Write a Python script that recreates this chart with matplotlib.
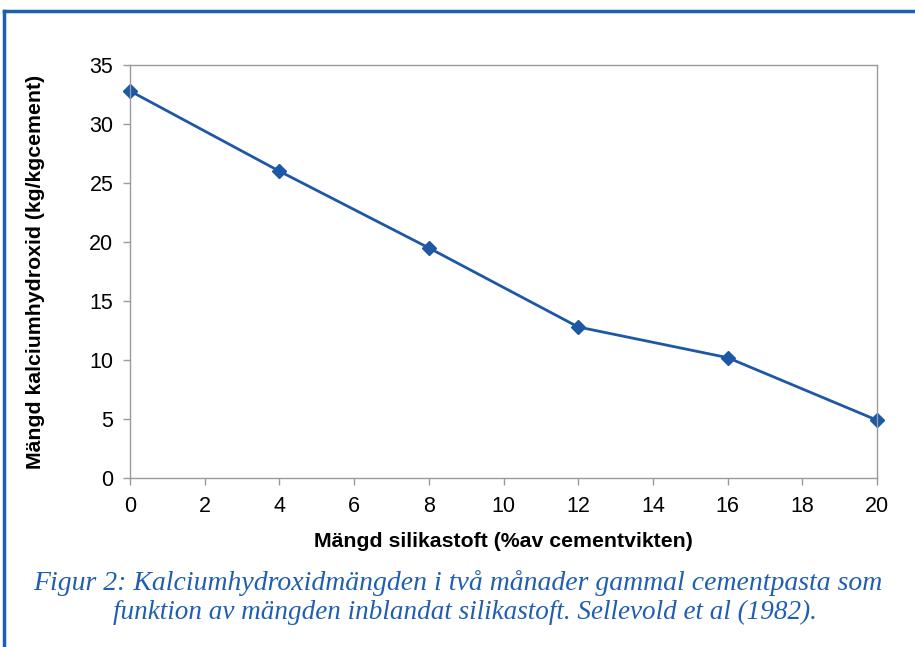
import matplotlib
matplotlib.use("Agg")
import matplotlib.pyplot as plt
from matplotlib.lines import Line2D

silika = [0, 4, 8, 12, 16, 20]
kalcium = [32.8, 26.0, 19.5, 12.8, 10.2, 4.9]
xticks = list(range(0, 21, 2))
yticks = list(range(0, 36, 5))

fig = plt.figure(figsize=(9.15, 6.47), dpi=100)
fig.patch.set_facecolor("white")

# figure frame (top and left lines, blue)
frame_col = "#1b5fae"
fig.add_artist(Line2D([4/915, 4/915], [0, 1 - 11/647], transform=fig.transFigure, color=frame_col, lw=2.5))
fig.add_artist(Line2D([4/915, 1], [1 - 11/647, 1 - 11/647], transform=fig.transFigure, color=frame_col, lw=2.5))

ax = fig.add_axes([130/915, 1 - 478/647, (877 - 130)/915, (478 - 65)/647])
ax.plot(silika, kalcium, color="#1d58a7", lw=2, marker="D", markersize=7.5, clip_on=False)
ax.set_xlim(0, 20)
ax.set_ylim(0, 35)
ax.set_xticks(xticks)
ax.set_yticks(yticks)
for s in ax.spines.values():
    s.set_color("#9a9a9a")
    s.set_linewidth(1)
ax.tick_params(axis="both", direction="out", length=5, color="#9a9a9a", labelsize=15.5, labelcolor="black", width=1)
ax.tick_params(axis="x", pad=8)
ax.tick_params(axis="y", pad=7)
for lab in ax.get_xticklabels() + ax.get_yticklabels():
    lab.set_fontfamily("Liberation Sans")

ax.set_xlabel("Mängd silikastoft (%av cementvikten)", fontsize=15.3, fontweight="bold",
              fontfamily="Liberation Sans", labelpad=11)
ax.set_ylabel("Mängd kalciumhydroxid (kg/kgcement)", fontsize=15.3, fontweight="bold",
              fontfamily="Liberation Sans", labelpad=32)

cap_col = "#1f5eb0"
fig.text(458/915, 1 - 583/647, "Figur 2: Kalciumhydroxidmängden i två månader gammal cementpasta som",
         ha="center", va="center", fontsize=20, style="italic", fontfamily="Liberation Serif", color=cap_col)
fig.text(465/915, 1 - 612/647, "funktion av mängden inblandat silikastoft. Sellevold et al (1982).",
         ha="center", va="center", fontsize=19.5, style="italic", fontfamily="Liberation Serif", color=cap_col)

fig.savefig("out.png", dpi=100)
